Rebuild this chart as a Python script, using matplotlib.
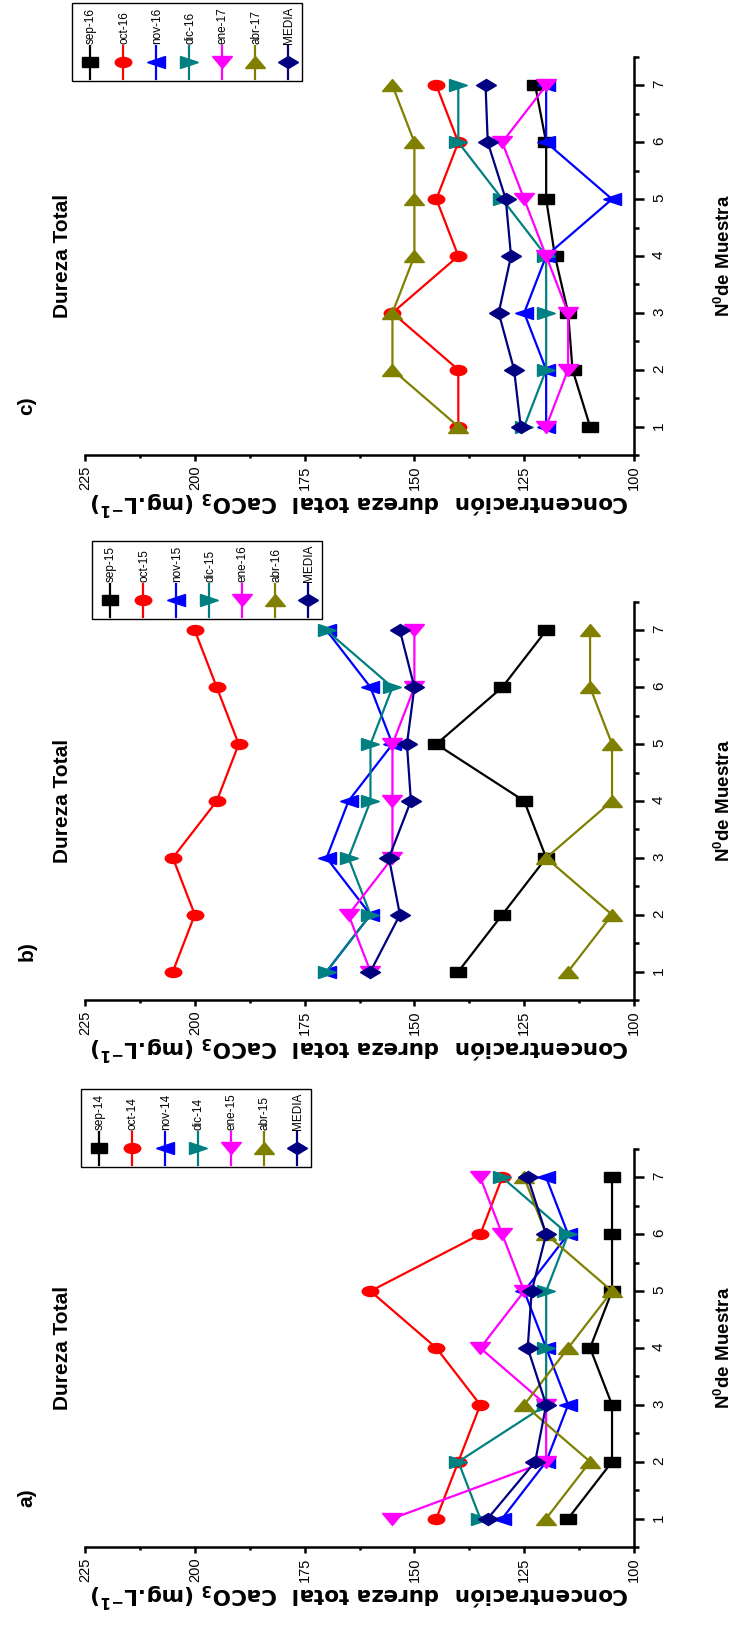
import numpy as np
import matplotlib
matplotlib.use('Agg')
import matplotlib.pyplot as plt
from matplotlib.markers import MarkerStyle
from matplotlib.transforms import Affine2D
from matplotlib.lines import Line2D
from matplotlib.patches import Rectangle
from matplotlib.ticker import MultipleLocator

plt.rcParams['mathtext.default'] = 'regular'

# Arial-like font, narrower than DejaVu
narrow = 'Liberation Sans'

muestras = [1, 2, 3, 4, 5, 6, 7]

# a) sep-14 .. abr-15
a_labels = ['sep-14', 'oct-14', 'nov-14', 'dic-14', 'ene-15', 'abr-15', 'MEDIA']
a_sep = [115, 105, 105, 110, 105, 105, 105]
a_oct = [145, 140, 135, 145, 160, 135, 130]
a_nov = [130, 120, 115, 120, 125, 115, 120]
a_dic = [135, 140, 120, 120, 120, 115, 130]
a_ene = [155, 120, 120, 135, 125, 130, 135]
a_abr = [120, 110, 125, 115, 105, 120, 125]
a_media = [133.3, 122.5, 120.0, 124.2, 123.3, 120.0, 124.2]

# b) sep-15 .. abr-16
b_labels = ['sep-15', 'oct-15', 'nov-15', 'dic-15', 'ene-16', 'abr-16', 'MEDIA']
b_sep = [140, 130, 120, 125, 145, 130, 120]
b_oct = [205, 200, 205, 195, 190, 195, 200]
b_nov = [170, 160, 170, 165, 155, 160, 170]
b_dic = [170, 160, 165, 160, 160, 155, 170]
b_ene = [160, 165, 155, 155, 155, 150, 150]
b_abr = [115, 105, 120, 105, 105, 110, 110]
b_media = [160.0, 153.3, 155.8, 150.8, 151.7, 150.0, 153.3]

# c) sep-16 .. abr-17
c_labels = ['sep-16', 'oct-16', 'nov-16', 'dic-16', 'ene-17', 'abr-17', 'MEDIA']
c_sep = [110, 114, 115, 118, 120, 120, 122.5]
c_oct = [140, 140, 155, 140, 145, 140, 145]
c_nov = [120, 120, 125, 120, 105, 120, 120]
c_dic = [125, 120, 120, 120, 130, 140, 140]
c_ene = [120, 115, 115, 120, 125, 130, 120]
c_abr = [140, 155, 155, 150, 150, 150, 155]
c_media = [125.8, 127.3, 130.8, 128.0, 129.2, 133.3, 133.8]

colores = ['black', '#FF0000', '#0000FF', '#008080', '#FF00FF', '#808000', '#000080']
# figure is turned 90 deg, so the Origin markers turn too
marcas = ['s', 'o', '<', '>', 'v', '^', 'D']
tamanos = [6.8, 7.2, 8, 8, 8.5, 8.5, 6.2]


def mk(m):
    return MarkerStyle(m, transform=Affine2D().scale(1.65, 1.0))


W, H = 747, 1629
fig = plt.figure(figsize=(W / 100, H / 100), dpi=100)


def panel(top, series, labels, letra, leg_L, leg_T):
    bottom = top + 398
    ax = fig.add_axes([85 / W, 1 - bottom / H, 549 / W, 398 / H])
    for i, vals in enumerate(series):
        ax.plot(vals, muestras, color=colores[i], lw=1.6, marker=mk(marcas[i]),
                markersize=tamanos[i], markeredgecolor=colores[i], clip_on=False)
    ax.set_xlim(225, 100)
    ax.set_ylim(0.5, 7.5)
    ax.spines['top'].set_visible(False)
    ax.spines['left'].set_visible(False)
    ax.spines['bottom'].set_linewidth(1.8)
    ax.spines['right'].set_linewidth(1.8)
    ax.xaxis.set_ticks_position('bottom')
    ax.yaxis.set_ticks_position('right')
    ax.set_xticks([225, 200, 175, 150, 125, 100])
    ax.xaxis.set_minor_locator(MultipleLocator(12.5))
    ax.set_yticks(muestras)
    ax.yaxis.set_minor_locator(MultipleLocator(0.5))
    ax.tick_params(axis='x', which='major', direction='out', length=4.5, width=1.8,
                   pad=3, labelrotation=90, labelsize=10.5)
    ax.tick_params(axis='x', which='minor', direction='out', length=2.2, width=1.8)
    ax.tick_params(axis='y', which='major', direction='out', length=7, width=1.8,
                   pad=6, labelrotation=90, labelsize=11)
    ax.tick_params(axis='y', which='minor', direction='out', length=3.5, width=1.8)
    for t in ax.get_xticklabels() + ax.get_yticklabels():
        t.set_family(narrow)

    def ax_x(px):
        return (px - 85) / 549

    def ax_y(py):
        return (bottom - py) / 398

    ax.text(ax_x(63), 0.5, 'Dureza Total', rotation=90, ha='center', va='center',
            fontsize=15, fontweight='bold', family=narrow, transform=ax.transAxes)
    ax.text(ax_x(27), ax_y(bottom - 49), letra, rotation=90, ha='center', va='center',
            fontsize=15, fontweight='bold', family=narrow, transform=ax.transAxes)
    ax.text(0.5, ax_y(bottom + 48),
            'Concentración  dureza total  CaCO$_3$ (mg.L$^{-1}$)',
            rotation=180, ha='center', va='center', fontsize=15.5, fontweight='bold',
            family='DejaVu Sans', transform=ax.transAxes)
    ax.text(ax_x(724), 0.5, 'N$^0$de Muestra', rotation=90, ha='center', va='center',
            fontsize=13.5, fontweight='bold', family=narrow, transform=ax.transAxes)

    # legend box, drawn by hand because the whole figure is turned
    fig.add_artist(Rectangle((leg_L / W, 1 - (leg_T + 78) / H), 230 / W, 78 / H,
                             transform=fig.transFigure, facecolor='white',
                             edgecolor='black', lw=1.0))
    for i, lab in enumerate(labels):
        xi = leg_L + 18 + 33 * i
        ys = [1 - (leg_T + 43) / H, 1 - (leg_T + 59) / H, 1 - (leg_T + 76) / H]
        fig.add_artist(Line2D([xi / W] * 3, ys, transform=fig.transFigure,
                              color=colores[i], lw=1.6, marker=mk(marcas[i]),
                              markersize=tamanos[i], markevery=[1]))
        fig.text((xi + 1) / W, 1 - (leg_T + 41) / H, lab, rotation=90,
                 ha='center', va='bottom', fontsize=8.5, family=narrow)
    return ax


panel(57, [c_sep, c_oct, c_nov, c_dic, c_ene, c_abr, c_media], c_labels, 'c)', 72, 3)
panel(602, [b_sep, b_oct, b_nov, b_dic, b_ene, b_abr, b_media], b_labels, 'b)', 92, 541)
panel(1149, [a_sep, a_oct, a_nov, a_dic, a_ene, a_abr, a_media], a_labels, 'a)', 81, 1089)

fig.savefig('out.png', dpi=100, facecolor='white')
